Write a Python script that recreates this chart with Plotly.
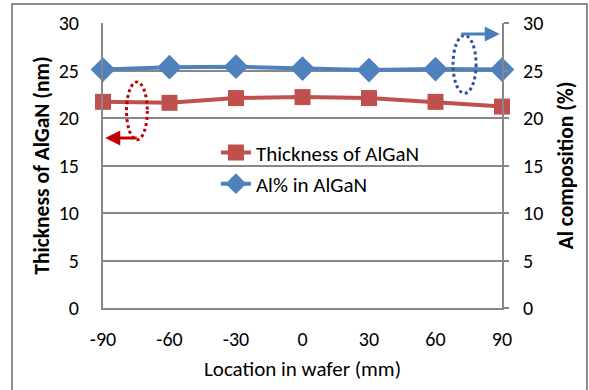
import plotly.graph_objects as go

locations = [-90, -60, -30, 0, 30, 60, 90]
thickness_nm = [21.7, 21.6, 22.1, 22.2, 22.1, 21.7, 21.2]
al_percent = [25.1, 25.35, 25.4, 25.2, 25.05, 25.15, 25.1]
x_ticks = [-90, -60, -30, 0, 30, 60, 90]
x_tick_labels = ["-90", "-60", "-30", "0", "30", "60", "90"]
y_ticks = [0, 5, 10, 15, 20, 25, 30]

RED = "#C0504D"
BLUE = "#4F81BD"
GRID = "#878787"
FONT = "Carlito, Lato, sans-serif"

fig = go.Figure()
fig.add_trace(go.Scatter(
    x=locations, y=thickness_nm, name="Thickness of AlGaN", mode="lines+markers",
    line=dict(color=RED, width=4), marker=dict(symbol="square", size=16, color=RED),
    cliponaxis=False, legend="legend"))
fig.add_trace(go.Scatter(
    x=locations, y=al_percent, name="Al% in AlGaN", mode="lines+markers", yaxis="y2",
    line=dict(color=BLUE, width=4), marker=dict(symbol="diamond", size=19, color=BLUE),
    cliponaxis=False, legend="legend2"))

fig.update_layout(
    width=589, height=390,
    margin=dict(l=103, r=87, t=23, b=82),
    paper_bgcolor="white", plot_bgcolor="white",
    font=dict(family=FONT, size=20, color="black"),
    xaxis=dict(range=[-90, 90], tickvals=x_ticks, ticktext=x_tick_labels,
               showgrid=False, zeroline=False,
               showline=True, linecolor=GRID, linewidth=2, ticks="",
               ticklabelstandoff=12, tickfont=dict(size=20),
               title=dict(text="Location in wafer (mm)", standoff=11,
                          font=dict(size=21)),
               automargin=False),
    yaxis=dict(range=[0, 30], tickvals=y_ticks, showgrid=True, gridcolor=GRID,
               gridwidth=2, zeroline=False, showline=True, linecolor=GRID, linewidth=2,
               ticks="", ticklabelstandoff=18, tickfont=dict(size=20),
               title=dict(text="<b>Thickness of AlGaN (nm)</b>", standoff=3,
                          font=dict(size=21.5)),
               automargin=False),
    yaxis2=dict(range=[0, 30], tickvals=y_ticks, overlaying="y", side="right",
                showgrid=False, zeroline=False, showline=True, linecolor=GRID,
                linewidth=2, ticks="outside", ticklen=5, tickwidth=2, tickcolor=GRID,
                ticklabelstandoff=10, tickfont=dict(size=20),
                title=dict(text="<b>Al composition (%)</b>", standoff=16,
                           font=dict(size=21.5)),
                automargin=False),
    legend=dict(x=0.283, y=0.616, xanchor="left", yanchor="top",
                bgcolor="rgba(0,0,0,0)", font=dict(size=21)),
    legend2=dict(x=0.283, y=0.507, xanchor="left", yanchor="top",
                 bgcolor="rgba(0,0,0,0)", font=dict(size=21)),
    showlegend=True,
)

# outer chart border
fig.add_shape(type="rect", xref="paper", yref="paper",
              x0=-0.228, x1=1.213, y0=-0.35, y1=1.067,
              line=dict(color="#8C8C8C", width=2), fillcolor="rgba(0,0,0,0)")

# dotted ellipses
fig.add_shape(type="circle", xref="x", yref="y", x0=-79.4, x1=-70.0, y0=17.7, y1=23.8,
              line=dict(color="#C00000", width=3, dash="dot"))
fig.add_shape(type="circle", xref="x", yref="y2", x0=67.9, x1=78.3, y0=22.6, y1=28.7,
              line=dict(color="#2F5597", width=3, dash="dot"))

# arrows
fig.add_annotation(x=-89, y=17.9, xref="x", yref="y", ax=33, ay=0, text="",
                   showarrow=True, arrowhead=2, arrowsize=1, arrowwidth=3,
                   arrowcolor="#C00000")
fig.add_annotation(x=89, y=28.85, xref="x", yref="y2", ax=-40, ay=0, text="",
                   showarrow=True, arrowhead=2, arrowsize=1, arrowwidth=3,
                   arrowcolor="#4A7EBB")

fig.write_html("out.html")
